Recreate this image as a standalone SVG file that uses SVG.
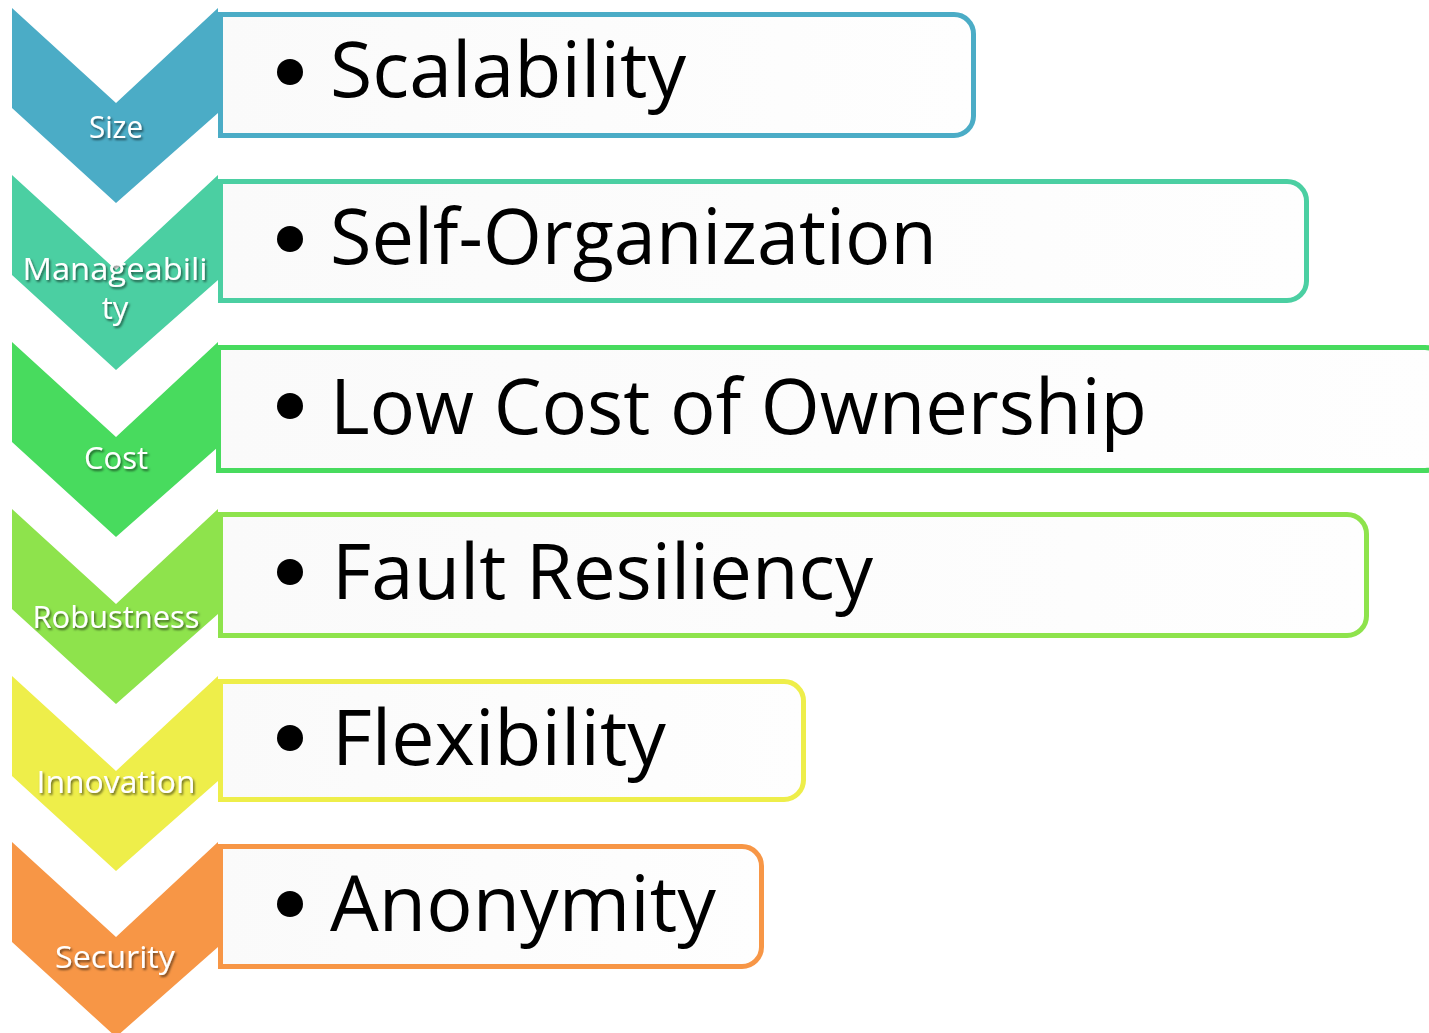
<svg xmlns="http://www.w3.org/2000/svg" width="1429" height="1033" viewBox="0 0 1429 1033">
<defs>
<filter id="sh" x="-20%" y="-30%" width="140%" height="160%">
<feDropShadow dx="1.5" dy="2" stdDeviation="1.2" flood-color="#000" flood-opacity="0.55"/>
</filter>
<linearGradient id="bg" x1="0" y1="0" x2="1" y2="0">
<stop offset="0" stop-color="#FAFAFA"/>
<stop offset="1" stop-color="#FEFEFE"/>
</linearGradient>
</defs>
<style>
.lab{font-family:"Open Sans","Liberation Sans",sans-serif;font-size:31px;fill:#fff;text-anchor:middle;filter:url(#sh)}
.txt{font-family:"Open Sans","Liberation Sans",sans-serif;font-size:77px;fill:#000}
.box{fill:url(#bg);stroke-width:5}
</style>
<rect width="1429" height="1033" fill="#fff"/>

<g id="size">
<path d="M12,8 L116,103 L218,8 V113 L116,203 L12,108 Z" fill="#4BACC6"/>
<text class="lab" x="116" y="138" textLength="54" lengthAdjust="spacingAndGlyphs">Size</text>
<path class="box" stroke="#4BACC6" d="M220.5,14.5 H954 A19.5,19.5 0 0 1 973.5,34 V116 A19.5,19.5 0 0 1 954,135.5 H220.5 Z"/>
<circle cx="290" cy="72" r="13"/>
<text class="txt" x="330" y="97" textLength="356" lengthAdjust="spacingAndGlyphs">Scalability</text>
</g>

<g id="manageability">
<path d="M12,175 L116,270 L218,175 V280 L116,370 L12,275 Z" fill="#4BCFA2"/>
<text class="lab" x="115" y="280" textLength="185" lengthAdjust="spacingAndGlyphs">Manageabili</text>
<text class="lab" x="115" y="319">ty</text>
<path class="box" stroke="#4BCFA2" d="M220.5,181.5 H1287 A19.5,19.5 0 0 1 1306.5,201 V281 A19.5,19.5 0 0 1 1287,300.5 H220.5 Z"/>
<circle cx="290" cy="239" r="13"/>
<text class="txt" x="330" y="264" textLength="607" lengthAdjust="spacingAndGlyphs">Self-Organization</text>
</g>

<g id="cost">
<path d="M12,342 L116,437 L218,342 V447 L116,537 L12,442 Z" fill="#48DB5E"/>
<text class="lab" x="116" y="469" textLength="64" lengthAdjust="spacingAndGlyphs">Cost</text>
<path class="box" stroke="#48DB5E" d="M218.5,347.5 H1425 A19.5,19.5 0 0 1 1444.5,367 V450 A19.5,19.5 0 0 1 1425,470.5 H218.5 Z"/>
<circle cx="290" cy="406" r="13"/>
<text class="txt" x="330" y="434" textLength="817" lengthAdjust="spacingAndGlyphs">Low Cost of Ownership</text>
</g>

<g id="robustness">
<path d="M12,509 L116,604 L218,509 V614 L116,704 L12,609 Z" fill="#8EE34C"/>
<text class="lab" x="116" y="628" textLength="167" lengthAdjust="spacingAndGlyphs">Robustness</text>
<path class="box" stroke="#8EE34C" d="M220.5,514.5 H1347 A19.5,19.5 0 0 1 1366.5,534 V616 A19.5,19.5 0 0 1 1347,635.5 H220.5 Z"/>
<circle cx="290" cy="572" r="13"/>
<text class="txt" x="332" y="599" textLength="541" lengthAdjust="spacingAndGlyphs">Fault Resiliency</text>
</g>

<g id="innovation">
<path d="M12,676 L116,771 L218,676 V781 L116,871 L12,776 Z" fill="#EEEE4A"/>
<text class="lab" x="116" y="793" textLength="159" lengthAdjust="spacingAndGlyphs">Innovation</text>
<path class="box" stroke="#EEEE4A" d="M220.5,681.5 H784 A19.5,19.5 0 0 1 803.5,701 V780 A19.5,19.5 0 0 1 784,799.5 H220.5 Z"/>
<circle cx="290" cy="738" r="13"/>
<text class="txt" x="332" y="765" textLength="334" lengthAdjust="spacingAndGlyphs">Flexibility</text>
</g>

<g id="security">
<path d="M12,842 L116,937 L218,842 V947 L116,1037 L12,942 Z" fill="#F79646"/>
<text class="lab" x="115" y="968" textLength="120" lengthAdjust="spacingAndGlyphs">Security</text>
<path class="box" stroke="#F79646" d="M220.5,846.5 H742 A19.5,19.5 0 0 1 761.5,866 V947 A19.5,19.5 0 0 1 742,966.5 H220.5 Z"/>
<circle cx="290" cy="904" r="13"/>
<text class="txt" x="330" y="931" textLength="386" lengthAdjust="spacingAndGlyphs">Anonymity</text>
</g>

<g id="connectors"/>
</svg>
